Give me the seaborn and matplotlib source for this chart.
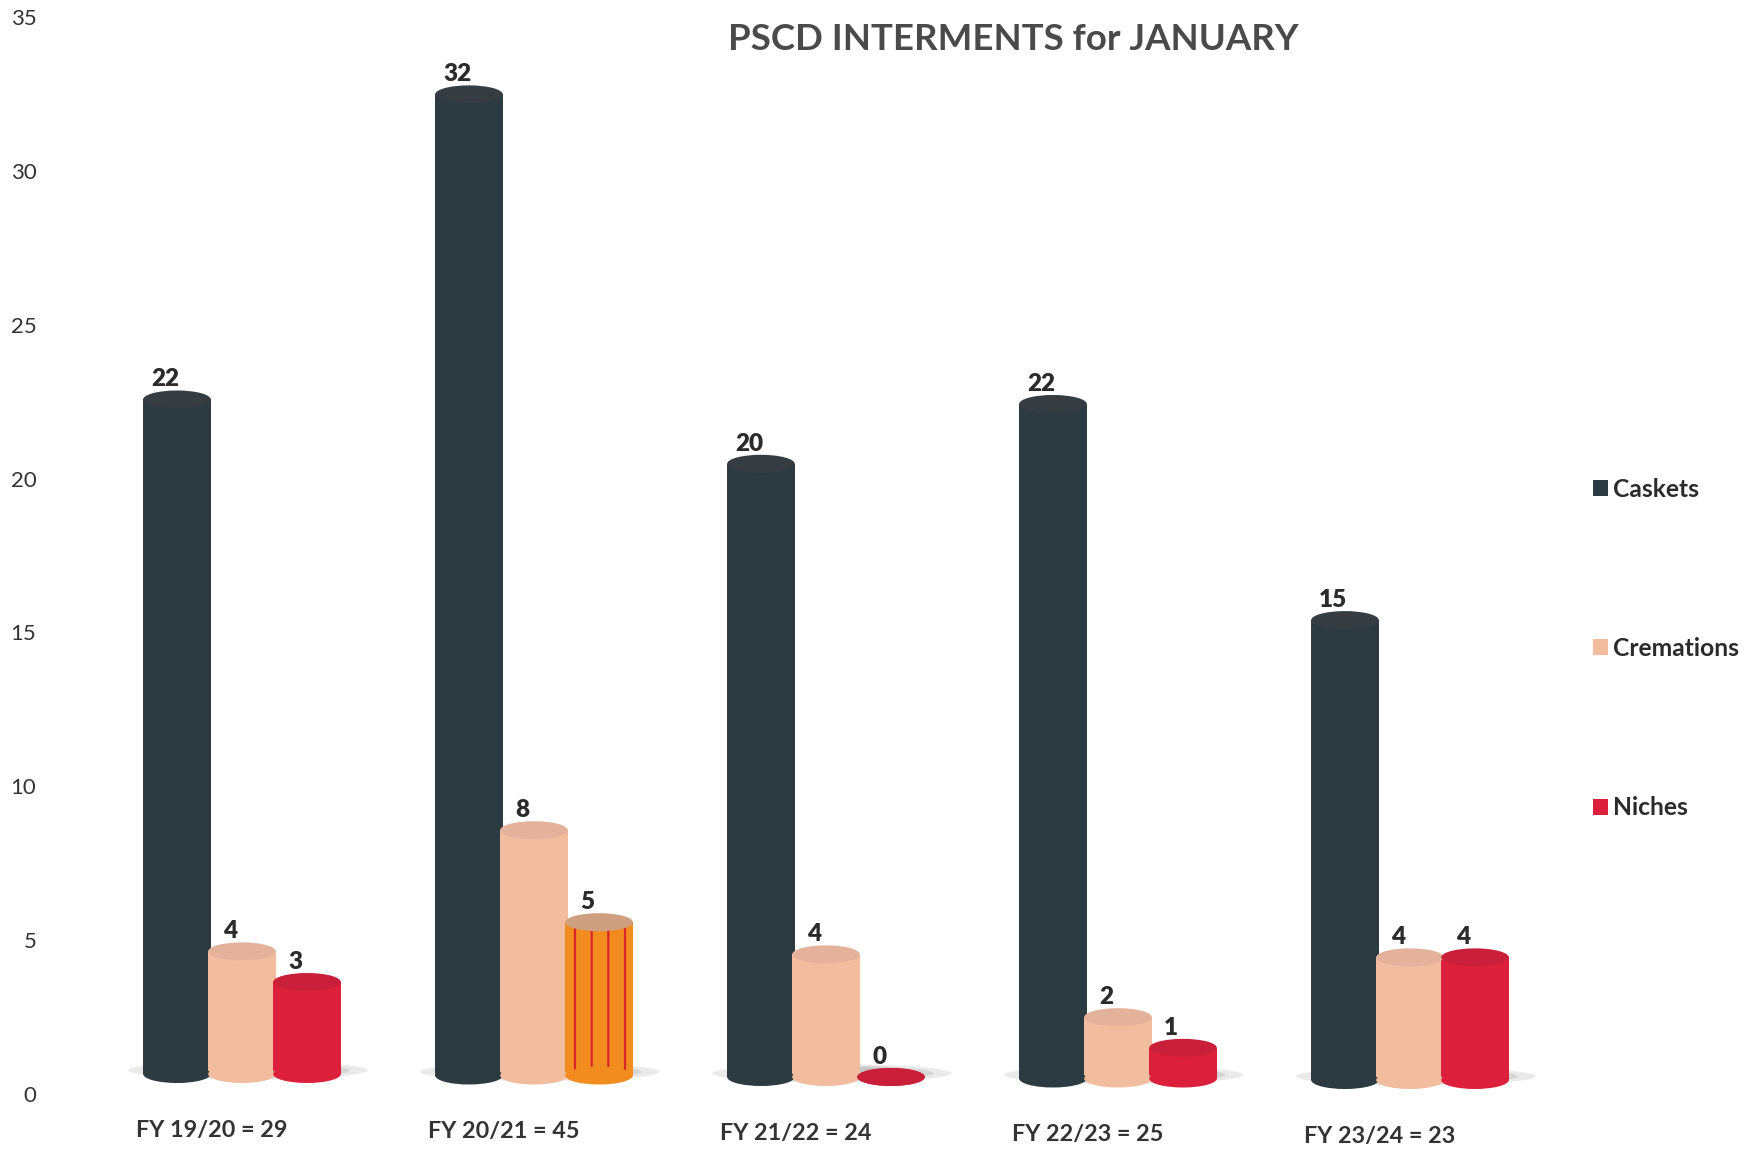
import pandas as pd
import seaborn as sns
import matplotlib.pyplot as plt
from matplotlib.patches import Ellipse
from matplotlib.transforms import ScaledTranslation

years = ["FY 19/20 = 29", "FY 20/21 = 45", "FY 21/22 = 24", "FY 22/23 = 25", "FY 23/24 = 23"]
caskets = [22, 32, 20, 22, 15]
cremations = [4, 8, 4, 2, 4]
niches = [3, 5, 0, 1, 4]
series = ["Caskets", "Cremations", "Niches"]
y_ticks = [0, 5, 10, 15, 20, 25, 30, 35]

colors = ["#2c3a41", "#f2bd9f", "#dc1f3a"]
cap_colors = ["#353d43", "#e4b29b", "#c91f38"]

data = pd.DataFrame({
    "year": years * 3,
    "series": [s for s in series for _ in years],
    "value": caskets + cremations + niches,
})

W, H = 1760, 1152
sns.set_theme(style="white")
plt.rcParams["font.family"] = ["Lato", "DejaVu Sans"]
plt.rcParams["hatch.linewidth"] = 1.6

fig = plt.figure(figsize=(W / 100, H / 100), dpi=100)
ax = fig.add_axes([60 / W, (H - 1094) / H, (W - 60) / W, 1094 / H])

# the scan's axis labels sit a bit lower than the bars' base, so they get their own axis
ax_ticks = ax.twinx()
ax_ticks.set_zorder(0)
ax.set_zorder(1)
ax.patch.set_visible(False)

sns.barplot(data=data, x="year", y="value", hue="series", hue_order=series,
            palette=colors, width=0.668, saturation=1, linewidth=0, ax=ax, zorder=3)

ax.set_xlim((60 - 242) / 292, (W - 242) / 292)
ax.set_ylim(-20 / 30.66, 1074 / 30.66)
ax_ticks.set_ylim(0, 1094 / 30.77)
ax_ticks.yaxis.tick_left()
ax_ticks.set_yticks(y_ticks)
ax_ticks.set_yticklabels([str(t) for t in y_ticks], fontsize=16, color="#333333")
ax_ticks.tick_params(axis="y", length=0, pad=17)

ax.set_yticks([])
ax.set_xlabel("")
ax.set_ylabel("")
ax.tick_params(axis="x", length=0, pad=18.5)
ax.set_xticks(range(len(years)))
ax.set_xticklabels(years, fontsize=16.8, fontweight="bold", color="#333333")


# the page was scanned slightly crooked: everything drops towards the right
def tilt(i):
    return ScaledTranslation(0, -1.5 * i / 100, fig.dpi_scale_trans)


for i, label in enumerate(ax.get_xticklabels()):
    shift = ScaledTranslation(-30 / 100, -1.5 * i / 100, fig.dpi_scale_trans)
    label.set_transform(label.get_transform() + shift)

for a in (ax, ax_ticks):
    for spine in a.spines.values():
        spine.set_visible(False)

# turn the flat bars into cylinders
cap_h = 18 / 30.66
for container, col, cap in zip(ax.containers, colors, cap_colors):
    for i, bar in enumerate(container):
        top = bar.get_height()
        cx = bar.get_x() + bar.get_width() / 2
        w = bar.get_width() * 1.04
        bar.set_x(cx - w / 2)
        bar.set_width(w)
        bar.set_transform(ax.transData + tilt(i))
        is_orange = col == colors[2] and top == niches[1]
        if is_orange:
            bar.set_facecolor("#f28c1e")
            bar.set_edgecolor("#d8262c")
            bar.set_hatch("|")
        base_col = "#f28c1e" if is_orange else col
        top_col = "#cfa07f" if is_orange else cap
        ax.add_patch(Ellipse((cx, 0), w, cap_h, facecolor=base_col, edgecolor="none", zorder=3,
                             transform=ax.transData + tilt(i)))
        ax.add_patch(Ellipse((cx, top), w, cap_h, facecolor=top_col, edgecolor="none", zorder=3,
                             transform=ax.transData + tilt(i)))
        ax.annotate(str(int(top)), (cx, top), xytext=(-8.5, 14.5), textcoords="offset points",
                    xycoords=ax.transData + tilt(i), ha="center", va="center", fontsize=17.5,
                    fontweight="heavy", color="#2b2b2b", zorder=5)

# soft floor shadow under each group
for i in range(len(years)):
    for k, alpha in zip([1.0, 0.85, 0.7], [0.2, 0.25, 0.3]):
        ax.add_patch(Ellipse((i + 0.02, 0.12), 0.82 * k, 0.6 * k, facecolor="#9a9a9a",
                             edgecolor="none", alpha=alpha, zorder=1,
                             transform=ax.transData + tilt(i)))

sns.move_legend(ax, loc="center left", bbox_to_anchor=(1593 / W, 1 - 648.5 / H),
                bbox_transform=fig.transFigure, frameon=False, title=None,
                fontsize=17.7, labelspacing=5.55, handlelength=0.63, handleheight=0.63,
                handletextpad=0.2, borderpad=0, borderaxespad=0)
for text in ax.get_legend().get_texts():
    text.set_fontweight("bold")
    text.set_color("#2b2b2b")

fig.text(1013 / W, 1 - 39 / H, "PSCD INTERMENTS for JANUARY", ha="center", va="center",
         fontsize=26.4, fontweight="bold", color="#4a4a4a")

fig.savefig("out.png", dpi=100)
